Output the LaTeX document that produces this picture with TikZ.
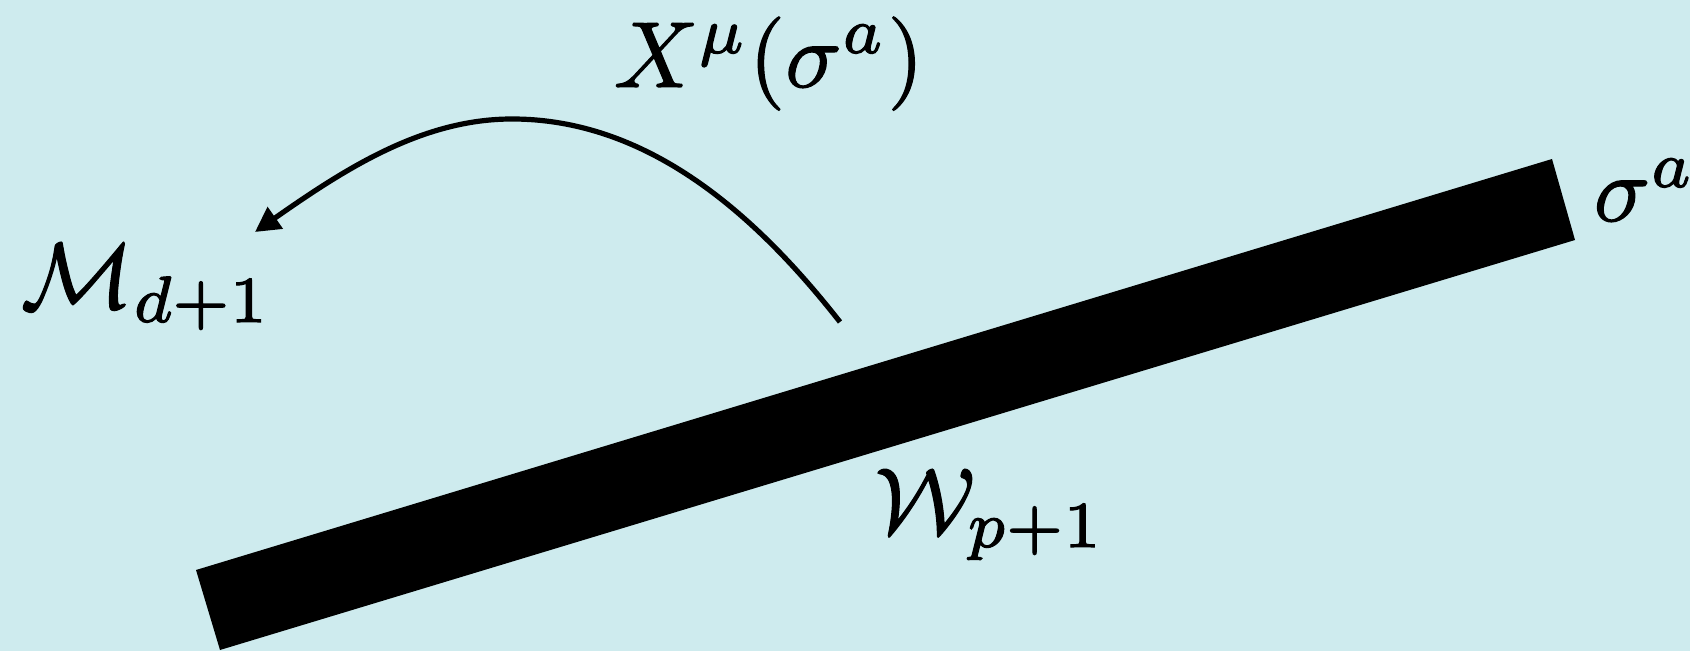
\documentclass[tikz,border=0pt]{standalone}
\usetikzlibrary{arrows.meta}
\definecolor{sea}{RGB}{206,235,238}
% slightly heavier strokes for the big formulae
\newcommand{\bigmath}[1]{\special{pdf:literal direct 2 Tr 0.12 w}\scalebox{2.34}{$#1$}\special{pdf:literal direct 0 Tr}}

\begin{document}
\begin{tikzpicture}[
        x=0.25pt, y=-0.25pt,
        maths/.style = {inner sep=0pt, anchor=base west},
        arrow/.style = {-{Triangle[length=6.2pt, width=6.4pt]}, line width=1.3pt}
        ]
        \fill[sea] (0,0) rectangle (1690,651);
        \useasboundingbox (0,0) rectangle (1690,651);
        % the world-volume
        \fill (196,570) -- (1552,159) -- (1575,240) -- (220,650) -- cycle;
        \node[maths] (embed) at (613,87) {\bigmath{X^\mu(\sigma^a)}};
        \node[maths] (target) at (20,308) {\bigmath{\mathcal{M}_{d+1}}};
        \node[maths] (coords) at (1593,221) {\bigmath{\sigma^a}};
        \node[maths] (world) at (874,533) {\bigmath{\mathcal{W}_{p+1}}};
        \coordinate (start) at (840,322);
        \coordinate (top) at (512,119);
        \coordinate (tip) at (255,232);
        \draw[arrow] (start) .. controls (760,220) and (652,119) .. (top)
                .. controls (422,119) and (345,169) .. (tip);
\end{tikzpicture}
\end{document}
